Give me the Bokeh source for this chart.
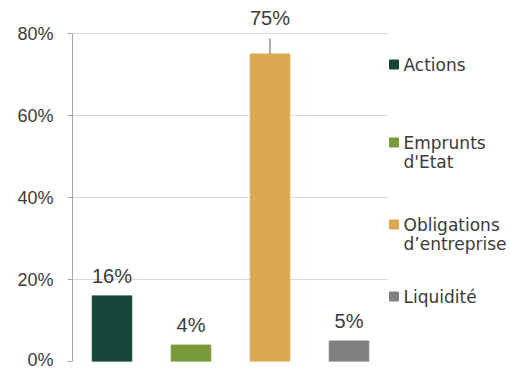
from bokeh.plotting import figure
from bokeh.models import ColumnDataSource, LabelSet, Range1d, NumeralTickFormatter, FixedTicker
from bokeh.layouts import row
from bokeh.embed import file_html
from bokeh.resources import INLINE
from bokeh.core.properties import value

# ---- data ----
categories = ["Actions", "Emprunts d'Etat", "Obligations d'entreprise", "Liquidité"]
shares = [0.16, 0.04, 0.75, 0.05]
share_labels = ["16%", "4%", "75%", "5%"]
legend_labels = ["Actions", "Emprunts\nd'Etat", "Obligations\nd\u2019entreprise", "Liquidité"]
colors = ["#16473A", "#789A3A", "#DDA852", "#808080"]
y_ticks = [0, 0.2, 0.4, 0.6, 0.8]
y_axis_max = 0.8

TEXT = "#3A3A3A"
AXIS_FONT = value("Liberation Sans")
LEG_FONT = value("DejaVu Sans")

# label offsets (px above bar top); tallest bar gets a leader line
label_offsets = [36 if s == max(shares) else 20 for s in shares]

src = ColumnDataSource(dict(cat=categories, share=shares, lab=share_labels,
                            color=colors, off=label_offsets))

FRAME_H = 361          # frame height in px
PX_PER_UNIT = 410      # 0.8 spans 328 px
BOTTOM = 8
p = figure(x_range=categories, y_range=Range1d(0, FRAME_H / PX_PER_UNIT),
           width=388, height=FRAME_H + BOTTOM,
           output_backend="svg", toolbar_location=None,
           min_border_left=72, min_border_top=0, min_border_bottom=BOTTOM, min_border_right=0)
p.vbar(x="cat", top="share", width=0.5, color="color", source=src)

# leader line for the tallest bar
top_idx = shares.index(max(shares))
p.segment(x0=[categories[top_idx]], x1=[categories[top_idx]],
          y0=[shares[top_idx]], y1=[shares[top_idx] + 0.038],
          line_color="#595959", line_width=1)

labels = LabelSet(x="cat", y="share", text="lab", source=src, y_offset="off",
                  text_align="center", text_baseline="middle",
                  text_font=AXIS_FONT, text_font_size="20px", text_color=TEXT)
p.add_layout(labels)

p.xaxis.visible = False
p.xgrid.grid_line_color = None
p.ygrid.grid_line_color = "#D9D9D9"
p.ygrid.ticker = FixedTicker(ticks=y_ticks)
p.ygrid.bounds = (0, y_axis_max)
p.yaxis.ticker = FixedTicker(ticks=y_ticks)
p.yaxis.bounds = (0, y_axis_max)
p.yaxis.formatter = NumeralTickFormatter(format="0%")
p.yaxis.axis_line_color = "#A6A6A6"
p.yaxis.major_tick_line_color = "#A6A6A6"
p.yaxis.major_tick_in = 0
p.yaxis.major_tick_out = 5
p.yaxis.minor_tick_line_color = None
p.yaxis.major_label_standoff = 14
p.yaxis.major_label_text_font = "Liberation Sans"
p.yaxis.major_label_text_font_size = "18px"
p.yaxis.major_label_text_color = TEXT
p.outline_line_color = None

# ---- legend panel (pixel-like coordinates, frame aligned with main frame) ----
leg = figure(width=122, height=FRAME_H + BOTTOM, x_range=Range1d(0, 122), y_range=Range1d(FRAME_H, 0),
             output_backend="svg", toolbar_location=None,
             min_border_left=0, min_border_right=0, min_border_top=0, min_border_bottom=BOTTOM)
leg.axis.visible = False
leg.grid.visible = False
leg.outline_line_color = None

item_y = [64, 142, 224, 296]
line_h = 19
sq_x, txt_x = 5.5, 15
leg.rect(x=[sq_x] * len(colors), y=item_y, width=9, height=9,
         width_units="screen", height_units="screen", color=colors)
tx, ty, tt = [], [], []
for y0, lab in zip(item_y, legend_labels):
    for i, line in enumerate(lab.split("\n")):
        tx.append(txt_x)
        ty.append(y0 + i * line_h)
        tt.append(line)
leg.text(x=tx, y=ty, text=tt, text_baseline="middle", text_align="left",
         text_font=LEG_FONT, text_font_size="17px", text_color=TEXT)

layout = row(p, leg)
open("out.html", "w").write(file_html(layout, INLINE))
